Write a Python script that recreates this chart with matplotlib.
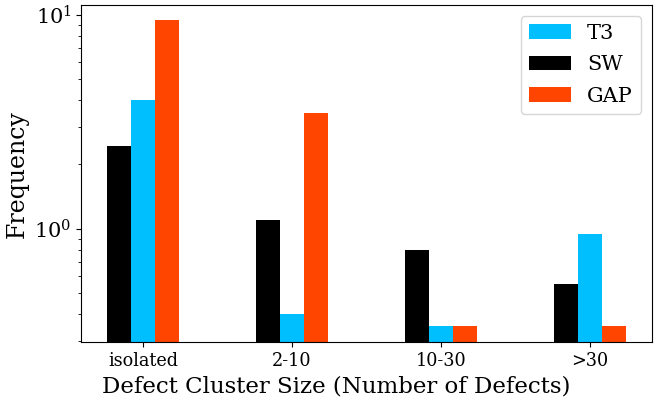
import matplotlib
matplotlib.use("Agg")
import matplotlib.pyplot as plt
import numpy as np

categories = ["isolated", "2-10", "10-30", ">30"]
sw = [2.44, 1.10, 0.80, 0.55]
t3 = [4.0, 0.40, 0.35, 0.95]
gap = [9.45, 3.48, 0.35, 0.35]

plt.rcParams["font.family"] = "DejaVu Serif"

fig = plt.figure(figsize=(6.65, 3.99), dpi=100)
ax = fig.add_axes([0.122, 0.143, 0.858, 0.844])

x = np.arange(len(categories))
w = 0.16
ax.bar(x - w, sw, w, color="black", label="SW")
ax.bar(x, t3, w, color="deepskyblue", label="T3")
ax.bar(x + w, gap, w, color="orangered", label="GAP")

ax.set_yscale("log")
ax.set_ylim(0.296, 11.1)
ax.set_xticks(x)
ax.set_xticklabels(categories, fontsize=12.7)
ax.tick_params(axis="y", labelsize=15)
ax.set_xlabel("Defect Cluster Size (Number of Defects)", fontsize=16.5)
ax.xaxis.label.set_x(0.447)
ax.set_ylabel("Frequency", fontsize=17)

handles, labels = ax.get_legend_handles_labels()
order = [1, 0, 2]
ax.legend([handles[i] for i in order], [labels[i] for i in order],
          loc="upper right", fontsize=15, labelspacing=0.6)

fig.savefig("out.png", dpi=100)
